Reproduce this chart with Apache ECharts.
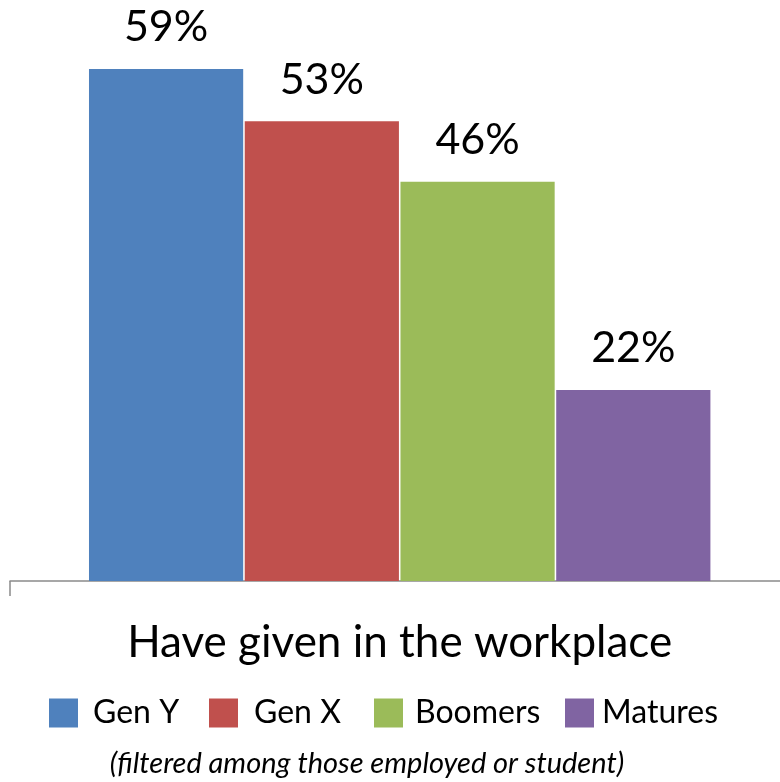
<!DOCTYPE html>
<html>
<head>
<meta charset="utf-8">
<style>
  html, body { margin: 0; padding: 0; background: #fff; overflow: hidden; }
  #chart { width: 800px; height: 782px; }
</style>
<script src="https://cdn.jsdelivr.net/npm/echarts@6/dist/echarts.min.js"></script>
</head>
<body>
<div id="chart"></div>
<script>
// Share who have given in the workplace, by generation (percent)
const categories = ['Have given in the workplace'];
const seriesNames = ['Gen Y', 'Gen X', 'Boomers', 'Matures'];
const genY = [59];
const genX = [53];
const boomers = [46];
const matures = [22];
const footnote = '(filtered among those employed or student)';

const seriesValues = [genY, genX, boomers, matures];
const colors = ['#4F81BD', '#C0504D', '#9BBB59', '#8064A2'];
const FONT = 'Lato, "Open Sans", sans-serif';

// one legend block per series so each swatch/text pair sits where it should
const legendSpots = [
  { left: 49, pad: 10 },
  { left: 209, pad: 11 },
  { left: 374, pad: 7 },
  { left: 565, pad: 3 }
];

const chart = echarts.init(document.getElementById('chart'), null, { renderer: 'canvas' });

chart.setOption({
  animation: false,
  backgroundColor: '#ffffff',
  title: {
    text: footnote,
    left: 362,
    textAlign: 'center',
    top: 744,
    textStyle: { fontFamily: FONT, fontStyle: 'italic', fontWeight: 'normal', fontSize: 29, color: '#000' }
  },
  legend: seriesNames.map((name, i) => ({
    data: [name],
    left: legendSpots[i].left,
    top: 697,
    padding: 0,
    itemWidth: 29,
    itemHeight: 29,
    icon: 'rect',
    selectedMode: false,
    textStyle: {
      fontFamily: FONT, fontSize: 32, color: '#000',
      padding: [0, 0, 0, legendSpots[i].pad]
    }
  })),
  grid: { left: 10, width: 779.4, top: 60.4, height: 520.6, containLabel: false },
  xAxis: {
    type: 'category',
    data: categories,
    axisLine: { show: true, lineStyle: { color: '#8a8a8a', width: 1.5 } },
    axisTick: { show: true, length: 15, lineStyle: { color: '#8a8a8a', width: 1.5 } },
    axisLabel: { fontFamily: FONT, fontSize: 44, color: '#000', margin: 40 }
  },
  yAxis: {
    type: 'value',
    min: 0,
    max: 60,
    show: false,
    splitLine: { show: false }
  },
  series: seriesNames.map((name, i) => ({
    name: name,
    type: 'bar',
    data: seriesValues[i],
    barWidth: 154.2,
    barGap: '1%',
    itemStyle: { color: colors[i] },
    label: {
      show: true,
      position: 'top',
      distance: 20,
      formatter: '{c}%',
      fontFamily: FONT,
      fontSize: 43,
      color: '#000'
    }
  }))
});
</script>
</body>
</html>
